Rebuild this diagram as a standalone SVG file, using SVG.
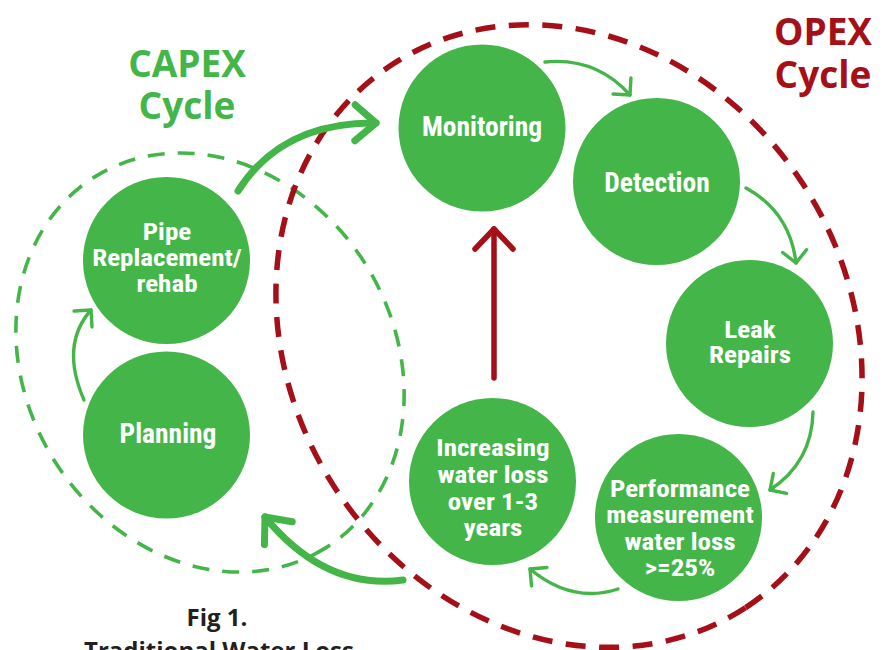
<svg xmlns="http://www.w3.org/2000/svg" width="886" height="650" viewBox="0 0 886 650">
  <defs>
    <style>
      .node circle { fill: #44b649; }
      .lbl { font-family: "Liberation Sans Narrow", "Roboto Condensed", "DejaVu Sans Condensed", sans-serif; font-weight: bold; font-size: 27.5px; fill: #ffffff; text-anchor: middle; }
      .ml .lbl { font-size: 23.5px; }
      .head { font-family: "Open Sans", "Noto Sans", sans-serif; font-weight: bold; font-size: 37px; text-anchor: middle; }
      .cap { fill: #44b649; }
      .op { fill: #a50f17; }
      .caption { font-family: "Open Sans", "Noto Sans", sans-serif; font-weight: bold; font-size: 24px; fill: #231f20; text-anchor: middle; }
      .thin { fill: none; stroke: #44b649; stroke-width: 3.4; stroke-linecap: round; }
      .thick { fill: none; stroke: #44b649; stroke-width: 7; stroke-linecap: round; }
      .up { fill: none; stroke: #a50f17; stroke-width: 5.5; stroke-linecap: round; }
    </style>
    <marker id="chevThin" markerUnits="userSpaceOnUse" orient="auto" refX="0" refY="0" markerWidth="40" markerHeight="40" overflow="visible">
      <path d="M-12,-12 L0,0 L-12,12" fill="none" stroke="#44b649" stroke-width="3.4" stroke-linecap="round" stroke-linejoin="round"/>
    </marker>
    <marker id="chevThick" markerUnits="userSpaceOnUse" orient="auto" refX="0" refY="0" markerWidth="60" markerHeight="60" overflow="visible">
      <path d="M-21,-18 L0,0 L-21,18" fill="none" stroke="#44b649" stroke-width="7" stroke-linecap="round" stroke-linejoin="round"/>
    </marker>
    <marker id="chevRed" markerUnits="userSpaceOnUse" orient="auto" refX="0" refY="0" markerWidth="60" markerHeight="60" overflow="visible">
      <path d="M-20,-19 L0,0 L-20,19" fill="none" stroke="#a50f17" stroke-width="5.5" stroke-linecap="round" stroke-linejoin="round"/>
    </marker>
  </defs>

  <rect width="886" height="650" fill="#ffffff"/>

  <!-- cycle boundaries -->
  <g id="boundaries">
    <ellipse id="capex-ring" cx="210" cy="362.5" rx="218.5" ry="184" transform="rotate(58.3 210 362.5)" fill="none" stroke="#44b649" stroke-width="3.6" stroke-dasharray="17 13"/>
    <ellipse id="opex-ring" cx="569" cy="336" rx="324" ry="279" transform="rotate(57 569 336)" fill="none" stroke="#a50f17" stroke-width="5.5" stroke-dasharray="20 13.5"/>
  </g>

  <!-- headings -->
  <text class="head cap" x="187" y="77">CAPEX</text>
  <text class="head cap" x="187" y="119">Cycle</text>
  <text class="head op" x="823" y="45">OPEX</text>
  <text class="head op" x="823" y="88">Cycle</text>

  <!-- nodes (multi-line labels are set slightly widened) -->
  <g id="node-monitoring" class="node">
    <circle cx="482" cy="128" r="83.5"/>
    <text class="lbl" x="482" y="136">Monitoring</text>
  </g>
  <g id="node-detection" class="node">
    <circle cx="656.5" cy="181.5" r="83.5"/>
    <text class="lbl" x="657" y="192">Detection</text>
  </g>
  <g id="node-leak-repairs" class="node">
    <circle cx="749.5" cy="343.5" r="83.5"/>
    <g class="ml" transform="translate(750 0) scale(1.15 1)">
      <text class="lbl" x="0" y="338">Leak</text>
      <text class="lbl" x="0" y="363">Repairs</text>
    </g>
  </g>
  <g id="node-performance" class="node">
    <circle cx="678.5" cy="517.5" r="83.5"/>
    <g class="ml" transform="translate(680 0) scale(1.15 1)">
      <text class="lbl" x="0" y="497">Performance</text>
      <text class="lbl" x="0" y="523">measurement</text>
      <text class="lbl" x="0" y="550">water loss</text>
      <text class="lbl" x="0" y="576">&gt;=25%</text>
    </g>
  </g>
  <g id="node-increasing" class="node">
    <circle cx="492.5" cy="481.5" r="83.5"/>
    <g class="ml" transform="translate(493 0) scale(1.15 1)">
      <text class="lbl" x="0" y="456">Increasing</text>
      <text class="lbl" x="0" y="483">water loss</text>
      <text class="lbl" x="0" y="510">over 1-3</text>
      <text class="lbl" x="0" y="536">years</text>
    </g>
  </g>
  <g id="node-pipe" class="node">
    <circle cx="166.5" cy="260.5" r="83.5"/>
    <g class="ml" transform="translate(167 0) scale(1.15 1)">
      <text class="lbl" x="0" y="240">Pipe</text>
      <text class="lbl" x="0" y="266">Replacement/</text>
      <text class="lbl" x="0" y="292">rehab</text>
    </g>
  </g>
  <g id="node-planning" class="node">
    <circle cx="166.5" cy="435" r="83.5"/>
    <text class="lbl" x="168" y="443">Planning</text>
  </g>

  <!-- connectors -->
  <g id="connectors">
    <path class="thin" d="M545,62 Q596,57 630,95" marker-end="url(#chevThin)"/>
    <path class="thin" d="M746,188 Q790,212 796,263" marker-end="url(#chevThin)"/>
    <path class="thin" d="M813,412 Q812,462 770,490" marker-end="url(#chevThin)"/>
    <path class="thin" d="M618,589 Q572,604 530,569" marker-end="url(#chevThin)"/>
    <path class="thin" d="M84,400 Q60,345 91,310" marker-end="url(#chevThin)"/>
    <path class="thick" d="M238,191 Q282,122 376,123" marker-end="url(#chevThick)"/>
    <path class="thick" d="M403,580 Q325,590 265,517" marker-end="url(#chevThick)"/>
    <path class="up" d="M494,378 L494,229" marker-end="url(#chevRed)"/>
  </g>

  <!-- caption -->
  <text class="caption" x="217" y="626">Fig 1.</text>
  <text class="caption" x="219" y="659">Traditional Water Loss</text>
</svg>
